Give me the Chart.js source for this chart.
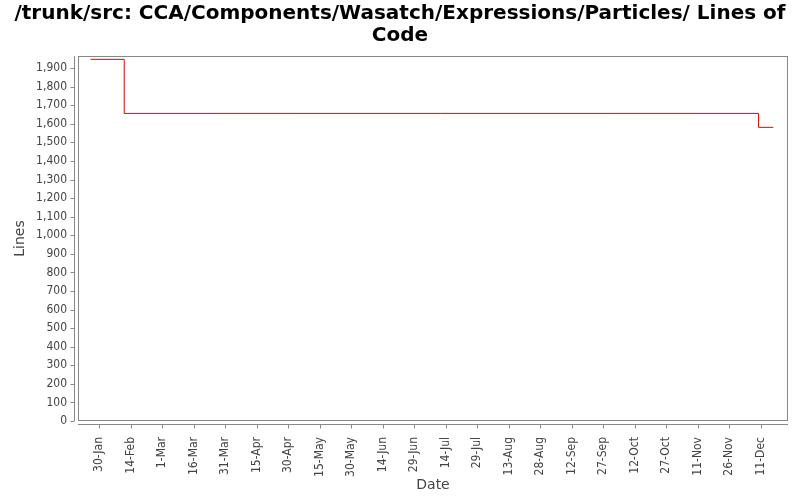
<!DOCTYPE html>
<html>
<head>
<meta charset="utf-8">
<script src="https://cdn.jsdelivr.net/npm/chart.js@4"></script>
<style>
  html, body { margin: 0; padding: 0; background: #fff; }
  #wrap { width: 800px; height: 500px; }
</style>
</head>
<body>
<div id="wrap"><canvas id="locChart"></canvas></div>
<script>
// commit dates and line counts
const commitDates = ['2010-01-26', '2010-02-11', '2010-12-10', '2010-12-17'];
const lineCounts = [1947, 1656, 1581, 1581];

// x axis tick labels (every 15 days)
const tickDates = ['2010-01-30', '2010-02-14', '2010-03-01', '2010-03-16', '2010-03-31', '2010-04-15',
  '2010-04-30', '2010-05-15', '2010-05-30', '2010-06-14', '2010-06-29', '2010-07-14', '2010-07-29',
  '2010-08-13', '2010-08-28', '2010-09-12', '2010-09-27', '2010-10-12', '2010-10-27', '2010-11-11',
  '2010-11-26', '2010-12-11'];
const tickLabels = ['30-Jan', '14-Feb', '1-Mar', '16-Mar', '31-Mar', '15-Apr', '30-Apr', '15-May',
  '30-May', '14-Jun', '29-Jun', '14-Jul', '29-Jul', '13-Aug', '28-Aug', '12-Sep', '27-Sep', '12-Oct',
  '27-Oct', '11-Nov', '26-Nov', '11-Dec'];
const yTicks = [0, 100, 200, 300, 400, 500, 600, 700, 800, 900, 1000, 1100, 1200, 1300, 1400,
  1500, 1600, 1700, 1800, 1900];

function dayNum(s) {
  const p = s.split('-').map(Number);
  return Date.UTC(p[0], p[1] - 1, p[2]) / 86400000;
}

const points = commitDates.map((d, i) => ({ x: dayNum(d), y: lineCounts[i] }));
const tickDays = tickDates.map(dayNum);
const labelFor = {};
tickDays.forEach((v, i) => { labelFor[v] = tickLabels[i]; });

const tickFont = { family: '"DejaVu Sans Condensed", "DejaVu Sans"', size: 12 };

// frame around the plot, offset axis lines and outside tick marks
const framePlugin = {
  id: 'frame',
  afterDraw(chart) {
    const { ctx, chartArea: a, scales } = chart;
    ctx.save();
    ctx.strokeStyle = '#888';
    ctx.lineWidth = 1;
    ctx.strokeRect(a.left + 0.5, a.top + 0.5, a.right - a.left - 1, a.bottom - a.top - 1);
    const ax = Math.round(a.left) - 3.5;
    const ay = Math.round(a.bottom) + 3.5;
    ctx.beginPath();
    ctx.moveTo(ax, a.top);
    ctx.lineTo(ax, a.bottom);
    ctx.moveTo(a.left, ay);
    ctx.lineTo(a.right, ay);
    scales.y.ticks.forEach(t => {
      const py = Math.round(scales.y.getPixelForValue(t.value)) + 0.5;
      ctx.moveTo(ax - 4, py);
      ctx.lineTo(ax, py);
    });
    scales.x.ticks.forEach(t => {
      const px = Math.round(scales.x.getPixelForValue(t.value)) + 0.5;
      ctx.moveTo(px, ay);
      ctx.lineTo(px, ay + 4);
    });
    ctx.stroke();
    ctx.restore();
  }
};

new Chart(document.getElementById('locChart'), {
  type: 'line',
  data: {
    datasets: [{
      label: 'Lines',
      data: points,
      stepped: 'before',
      borderColor: '#e00000',
      borderWidth: 1,
      pointRadius: 0,
      fill: false
    }]
  },
  options: {
    responsive: true,
    maintainAspectRatio: false,
    animation: false,
    layout: { padding: { top: 3, right: 12, bottom: 6, left: 12 } },
    plugins: {
      legend: { display: false },
      tooltip: { enabled: false },
      title: {
        display: true,
        text: ['/trunk/src: CCA/Components/Wasatch/Expressions/Particles/ Lines of', 'Code'],
        color: '#000',
        font: { family: 'DejaVu Sans', size: 20, weight: 'bold', lineHeight: 1.1 },
        padding: { top: 0, bottom: 9 }
      }
    },
    scales: {
      x: {
        type: 'linear',
        min: dayNum('2010-01-20'),
        max: dayNum('2010-12-24'),
        afterBuildTicks(scale) { scale.ticks = tickDays.map(v => ({ value: v })); },
        afterFit(scale) { scale.height = 73; },
        grid: { display: false },
        border: { display: false },
        ticks: {
          autoSkip: false,
          minRotation: 90,
          maxRotation: 90,
          padding: 8,
          color: '#444',
          font: tickFont,
          callback: v => labelFor[v] || ''
        },
        title: {
          display: true,
          text: 'Date',
          color: '#444',
          font: { family: 'DejaVu Sans', size: 14 },
          padding: { top: 0, bottom: 0 }
        }
      },
      y: {
        min: 0,
        max: 1965,
        afterBuildTicks(scale) { scale.ticks = yTicks.map(v => ({ value: v })); },
        afterFit(scale) { scale.width = 66; },
        grid: { display: false },
        border: { display: false },
        ticks: {
          padding: 3,
          color: '#444',
          font: tickFont,
          callback: v => v.toLocaleString('en-US')
        },
        title: {
          display: true,
          text: 'Lines',
          color: '#444',
          font: { family: 'DejaVu Sans', size: 14 },
          padding: { top: 0, bottom: 0 }
        }
      }
    }
  },
  plugins: [framePlugin]
});
</script>
</body>
</html>
